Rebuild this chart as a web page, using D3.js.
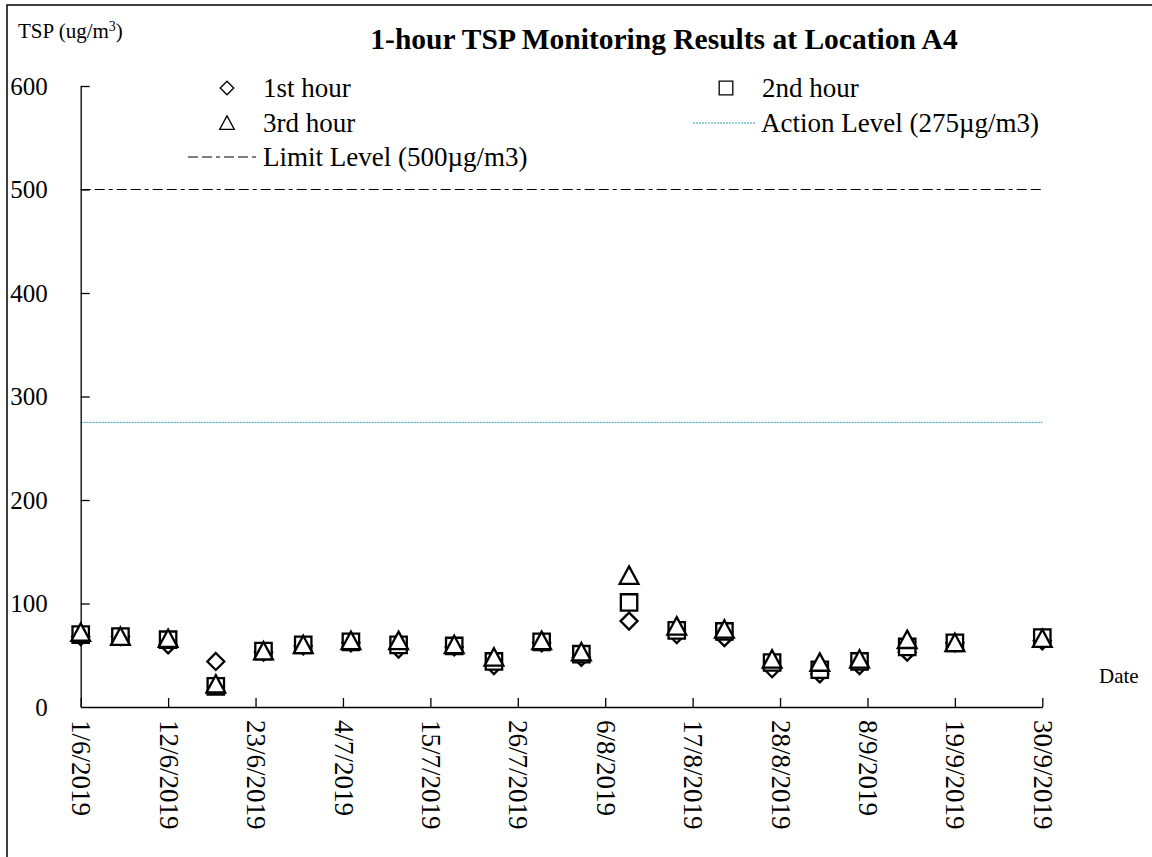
<!DOCTYPE html>
<html>
<head>
<meta charset="utf-8">
<script src="https://cdn.jsdelivr.net/npm/d3@7"></script>
<style>
  body { margin: 0; background: #fff; }
  svg text { font-family: "Liberation Serif", "Times New Roman", serif; fill: #000; }
</style>
</head>
<body>
<div id="chart"></div>
<script>
// sampling dates (d/m/2019)
const dates = ["1/6", "6/6", "12/6", "18/6", "24/6", "29/6", "5/7", "11/7", "18/7", "23/7", "29/7",
  "3/8", "9/8", "15/8", "21/8", "27/8", "2/9", "7/9", "13/9", "19/9", "30/9"];
const hour1 = [68, 68, 60, 44, 53, 59, 62, 56, 58, 40, 62, 48, 83, 70, 67, 37, 32, 40, 53, 62, 64];
const hour2 = [70, 68, 65, 20, 54, 60, 63, 60, 59, 44, 63, 51, 101, 74, 73, 43, 36, 44, 58, 62, 67];
const hour3 = [72, 68, 66, 22, 54, 60, 64, 64, 60, 48, 64, 53, 127, 78, 75, 46, 43, 46, 65, 62, 66];
const tickDates = ["1/6", "12/6", "23/6", "4/7", "15/7", "26/7", "6/8", "17/8", "28/8", "8/9", "19/9", "30/9"];
const yTicks = [0, 100, 200, 300, 400, 500, 600];
const limitLevel = 500;
const actionLevel = 275;

const parse = (s) => {
  const [d, m] = s.split('/').map(Number);
  return new Date(Date.UTC(2019, m - 1, d));
};

const width = 1152, height = 857;
const svg = d3.select('#chart').append('svg')
  .attr('width', width).attr('height', height);

// outer frame
svg.append('rect')
  .attr('x', 7).attr('y', 5).attr('width', width + 20).attr('height', height + 20)
  .attr('fill', 'none').attr('stroke', '#000').attr('stroke-width', 1.5);

const x = d3.scaleUtc()
  .domain([parse("1/6"), parse("30/9")])
  .range([80.7, 1042.3]);
const y = d3.scaleLinear()
  .domain([0, 600])
  .range([707, 86]);

// reference lines
const limitDash = '10,4,10,4,4,4';
svg.append('line')
  .attr('x1', x.range()[0]).attr('x2', x.range()[1])
  .attr('y1', y(limitLevel)).attr('y2', y(limitLevel))
  .attr('stroke', '#000').attr('stroke-width', 1.1)
  .attr('stroke-dasharray', limitDash);
svg.append('line')
  .attr('x1', x.range()[0]).attr('x2', x.range()[1])
  .attr('y1', y(actionLevel)).attr('y2', y(actionLevel))
  .attr('stroke', '#2fa3b3').attr('stroke-width', 1)
  .attr('stroke-dasharray', '2,1');

// axes: ticks point inward
const xAxis = d3.axisBottom(x)
  .tickValues(tickDates.map(parse))
  .tickSizeInner(-9).tickSizeOuter(0)
  .tickFormat(d => `${d.getUTCDate()}/${d.getUTCMonth() + 1}/2019`);
const gx = svg.append('g')
  .attr('transform', `translate(0,${y(0)})`)
  .call(xAxis);
gx.select('.domain').attr('stroke', '#000').attr('stroke-width', 1.3);
gx.selectAll('.tick line').attr('stroke', '#000').attr('stroke-width', 1.3);
gx.selectAll('.tick text')
  .attr('font-size', 27)
  .attr('font-family', '"Liberation Serif", serif')
  .attr('text-anchor', 'start')
  .attr('transform', 'rotate(90)')
  .attr('x', 13).attr('y', 0).attr('dy', '0.33em');

const yAxis = d3.axisLeft(y)
  .tickValues(yTicks)
  .tickSizeInner(-9).tickSizeOuter(0)
  .tickPadding(33);
const gy = svg.append('g')
  .attr('transform', `translate(${x.range()[0]},0)`)
  .call(yAxis);
gy.select('.domain').attr('stroke', '#000').attr('stroke-width', 1.3);
gy.selectAll('.tick line').attr('stroke', '#000').attr('stroke-width', 1.3);
gy.selectAll('.tick text')
  .attr('font-size', 25)
  .attr('font-family', '"Liberation Serif", serif');
gy.select('.tick:first-of-type line').remove();

// marker shapes
const shapes = {
  diamond: (s) => `M0,${-s}L${s},0L0,${s}L${-s},0Z`,
  square: (s) => `M${-s},${-s}H${s}V${s}H${-s}Z`,
  triangle: (s) => `M0,${-s * 1.05}L${s * 1.08},${s * 0.95}L${-s * 1.08},${s * 0.95}Z`,
};

const series = [
  { name: '1st hour', values: hour1, shape: 'diamond', size: 8.5 },
  { name: '2nd hour', values: hour2, shape: 'square', size: 8.2 },
  { name: '3rd hour', values: hour3, shape: 'triangle', size: 8.7 },
];

series.forEach(s => {
  svg.append('g').selectAll('path')
    .data(dates.map((d, i) => ({ date: parse(d), v: s.values[i] })))
    .join('path')
    .attr('d', shapes[s.shape](s.size))
    .attr('transform', d => `translate(${x(d.date)},${y(d.v)})`)
    .attr('fill', '#fff')
    .attr('stroke', '#000')
    .attr('stroke-width', 2.3);
});

// title and labels
svg.append('text')
  .attr('x', 664).attr('y', 49)
  .attr('text-anchor', 'middle')
  .attr('font-size', 29.5).attr('font-weight', 'bold')
  .text('1-hour TSP Monitoring Results at Location A4');

const yl = svg.append('text')
  .attr('x', 18).attr('y', 38)
  .attr('font-size', 21);
yl.append('tspan').text('TSP (ug/m');
yl.append('tspan').attr('font-size', 14).attr('dy', -7).text('3');
yl.append('tspan').attr('dy', 7).text(')');

svg.append('text')
  .attr('x', 1099).attr('y', 683)
  .attr('font-size', 21)
  .text('Date');

// legend
const legend = svg.append('g').attr('font-size', 27);
const legendItems = [
  { label: '1st hour', shape: 'diamond', x: 227, y: 88 },
  { label: '3rd hour', shape: 'triangle', x: 227, y: 123 },
  { label: '2nd hour', shape: 'square', x: 726, y: 88 },
];
legendItems.forEach(it => {
  legend.append('path')
    .attr('d', shapes[it.shape](6.8))
    .attr('transform', `translate(${it.x},${it.y})`)
    .attr('fill', '#fff').attr('stroke', '#000').attr('stroke-width', 1.3);
  legend.append('text')
    .attr('x', it.x + 36).attr('y', it.y).attr('dy', '0.33em')
    .text(it.label);
});
legend.append('line')
  .attr('x1', 188).attr('x2', 258).attr('y1', 157).attr('y2', 157)
  .attr('stroke', '#000').attr('stroke-width', 1.1)
  .attr('stroke-dasharray', limitDash);
legend.append('text')
  .attr('x', 263).attr('y', 157).attr('dy', '0.33em')
  .text('Limit Level (500µg/m3)');
legend.append('line')
  .attr('x1', 693).attr('x2', 756).attr('y1', 123).attr('y2', 123)
  .attr('stroke', '#2fa3b3').attr('stroke-width', 1)
  .attr('stroke-dasharray', '2,1');
legend.append('text')
  .attr('x', 761).attr('y', 123).attr('dy', '0.33em')
  .text('Action Level (275µg/m3)');
</script>
</body>
</html>
